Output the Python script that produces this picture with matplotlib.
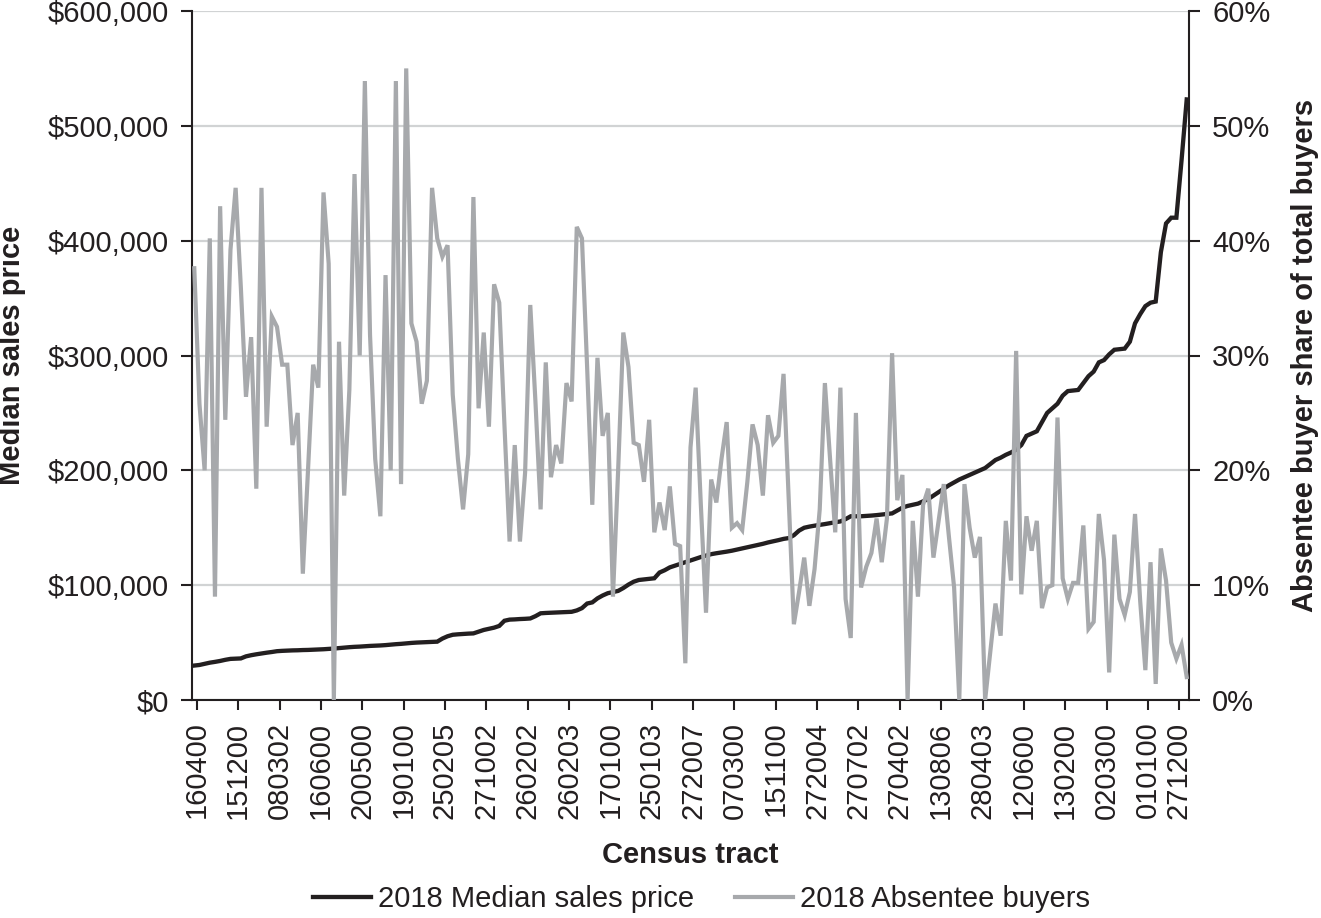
import matplotlib
matplotlib.use("Agg")
import matplotlib.pyplot as plt
from matplotlib.ticker import FuncFormatter, MultipleLocator

plt.rcParams["font.family"] = ["Liberation Sans", "DejaVu Sans"]

INK = "#231f20"
GREY = "#a7a9ac"
GRID = "#d1d3d4"

# census tract labels shown on the x axis (every 8th tract, plus the last one)
tract_labels = ["160400", "151200", "080302", "160600", "200500", "190100",
                "250205", "271002", "260202", "260203", "170100", "250103",
                "272007", "070300", "151100", "272004", "270702", "270402",
                "130806", "280403", "120600", "130200", "020300", "010100",
                "271200"]
label_index = [0, 8, 16, 24, 32, 40, 48, 56, 64, 72, 80, 88, 96, 104, 112,
               120, 128, 136, 144, 152, 160, 168, 176, 184, 190]

# 2018 median sales price per tract, sorted ascending
median_price = [
    30000, 30500, 31500, 32500, 33200, 34000, 35000, 35800, 36000, 36200,
    38000, 39000, 39800, 40500, 41200, 41800, 42500, 42800, 43000, 43200,
    43300, 43500, 43600, 43800, 44000, 44200, 44500, 44800, 45200, 45600,
    46000, 46300, 46500, 46800, 47100, 47300, 47500, 47800, 48200, 48600,
    48900, 49300, 49700, 50000, 50200, 50400, 50600, 50800, 53500, 55500,
    56800, 57200, 57500, 57800, 58000, 59500, 61000, 62000, 63000, 64500,
    69000, 70000, 70200, 70500, 70700, 71000, 73000, 75500, 75800, 76000,
    76200, 76400, 76600, 76800, 78000, 80000, 84000, 85000, 88500, 91000,
    93000, 94000, 95000, 97500, 100500, 103000, 104500, 105000, 105500, 106000,
    111000, 113000, 115500, 117000, 118500, 120000, 121500, 123000, 124500, 125800,
    127000, 127800, 128500, 129200, 130000, 131000, 132000, 133000, 134000, 135000,
    136000, 137200, 138200, 139200, 140300, 141000, 143500, 147500, 150000, 151000,
    151800, 152500, 153200, 154000, 154800, 155500, 157500, 160000, 160000, 160000,
    160300, 160600, 161000, 161500, 162000, 162500, 165000, 167500, 169000, 170000,
    171000, 173000, 175000, 178000, 181000, 184000, 187000, 189500, 192000, 194000,
    196000, 198000, 200000, 202000, 205500, 209000, 211000, 213500, 215500, 218000,
    222000, 230000, 232000, 234000, 242000, 250000, 254000, 258000, 265000, 269000,
    269500, 270000, 276000, 282000, 286000, 294000, 296000, 301000, 305000, 305500,
    306000, 312000, 328000, 336000, 343000, 346000, 347000, 390000, 415000, 420000,
    420000, 470000, 523000,
]

# 2018 absentee buyers as share of total buyers (%)
absentee_share = [
    37.6, 25.8, 20.0, 40.2, 9.0, 43.0, 24.4, 39.2, 44.6, 36.0,
    26.4, 31.6, 18.4, 44.6, 23.8, 33.4, 32.5, 29.2, 29.2, 22.2,
    25.0, 11.0, 20.0, 29.2, 27.2, 44.2, 38.0, 0.0, 31.2, 17.8,
    27.0, 45.8, 30.0, 53.9, 31.8, 21.0, 16.0, 37.0, 20.0, 53.9,
    18.8, 55.0, 32.8, 31.2, 25.8, 27.8, 44.6, 40.2, 38.6, 39.6,
    26.6, 21.0, 16.6, 21.4, 43.8, 25.4, 32.0, 23.8, 36.2, 34.6,
    24.0, 13.8, 22.2, 13.8, 19.8, 34.4, 26.0, 16.6, 29.4, 19.4,
    22.2, 20.6, 27.6, 26.0, 41.2, 40.2, 29.0, 17.0, 29.8, 23.0,
    25.0, 9.0, 20.0, 32.0, 29.0, 22.4, 22.2, 19.0, 24.4, 14.6,
    17.2, 14.8, 18.6, 13.6, 13.4, 3.2, 22.0, 27.2, 17.0, 7.6,
    19.2, 17.2, 21.0, 24.2, 15.0, 15.4, 14.8, 19.0, 24.0, 22.2,
    17.8, 24.8, 22.4, 23.0, 28.4, 17.5, 6.6, 9.4, 12.4, 8.2,
    11.4, 16.6, 27.6, 21.0, 14.6, 27.2, 8.8, 5.4, 25.0, 9.8,
    11.6, 12.8, 15.8, 12.0, 15.8, 30.2, 17.4, 19.6, 0.0, 15.6,
    9.0, 17.0, 18.4, 12.4, 15.6, 18.8, 14.2, 9.8, 0.0, 18.8,
    15.0, 12.4, 14.2, 0.0, 4.2, 8.4, 5.6, 15.6, 10.4, 30.4,
    9.2, 16.0, 13.0, 15.6, 8.0, 9.8, 10.0, 24.6, 10.6, 8.8,
    10.2, 10.2, 15.2, 6.2, 6.8, 16.2, 12.2, 2.4, 14.4, 8.8,
    7.4, 9.4, 16.2, 8.6, 2.6, 12.0, 1.4, 13.2, 10.4, 5.0,
    3.6, 4.8, 2.0,
]

W, H = 1321, 918
fig = plt.figure(figsize=(W / 100, H / 100), dpi=100)
ax = fig.add_axes([191.7 / W, 1 - 700 / H, (1189.3 - 191.7) / W, (700 - 11) / H])
ax2 = ax.twinx()

x = list(range(len(median_price)))
l1, = ax.plot(x, median_price, color=INK, lw=3.1, solid_joinstyle="miter",
              label="2018 Median sales price", zorder=3)
l2, = ax2.plot(x, absentee_share, color=GREY, lw=3.0, solid_joinstyle="miter",
               label="2018 Absentee buyers", zorder=3)

ax.set_xlim(-0.5, len(x) - 0.5)
ax.set_ylim(0, 600000)
ax2.set_ylim(0, 60)
ax.yaxis.set_major_locator(MultipleLocator(100000))
ax2.yaxis.set_major_locator(MultipleLocator(10))
ax.yaxis.set_major_formatter(FuncFormatter(lambda v, p: "${:,.0f}".format(v)))
ax2.yaxis.set_major_formatter(FuncFormatter(lambda v, p: "{:.0f}%".format(v)))

# ticks sit between categories, labels centred on them
ax.set_xticks([i + 0.5 for i in label_index])
ax.set_xticklabels(tract_labels, rotation=90)

ax.grid(axis="y", color=GRID, lw=1.6)
ax.set_axisbelow(True)

for a in (ax, ax2):
    a.spines["top"].set_visible(False)
    for s in ("left", "right", "bottom"):
        a.spines[s].set_color(INK)
        a.spines[s].set_linewidth(1.5)
ax.spines["right"].set_visible(False)
ax2.spines["left"].set_visible(False)
ax2.spines["bottom"].set_visible(False)

ax.tick_params(axis="y", direction="out", length=8, width=1.5, pad=8.5,
               labelsize=21, colors=INK)
ax2.tick_params(axis="y", direction="out", length=8, width=1.5, pad=8.5,
                labelsize=21, colors=INK)
ax.tick_params(axis="x", direction="out", length=7.5, width=1.5, pad=8,
               labelsize=21, colors=INK)

fig.text(12 / W, 1 - 355 / H, "Median sales price", rotation=90, ha="center",
         va="center", fontsize=21, fontweight="bold", color=INK)
fig.text(1305 / W, 1 - 355 / H, "Absentee buyer share of total buyers",
         rotation=90, ha="center", va="center", fontsize=21,
         fontweight="bold", color=INK)
fig.text(690 / W, 1 - 855 / H, "Census tract", ha="center", va="center",
         fontsize=21, fontweight="bold", color=INK)

fig.legend(handles=[l1, l2], loc="center", bbox_to_anchor=(701.5 / W, 1 - 899 / H),
           ncol=2, frameon=False, fontsize=21, handlelength=2.0,
           handletextpad=0.24, columnspacing=1.37, labelcolor=INK,
           borderpad=0.0, borderaxespad=0.0)

fig.savefig("out.png", dpi=100)
